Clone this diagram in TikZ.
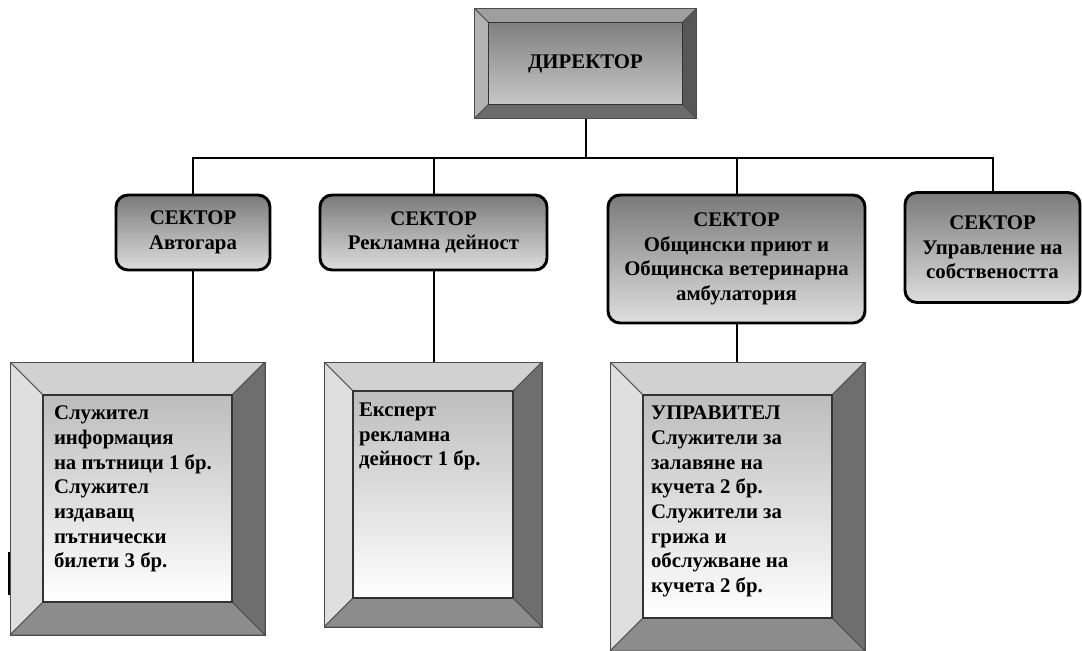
\documentclass[tikz,border=0pt]{standalone}
\usepackage{fontspec}
\setmainfont{Liberation Serif}
\def\px{0.75pt}
\begin{document}
\begin{tikzpicture}[x=0.75pt,y=-0.75pt,line width=1.5pt,
	font=\fontsize{15.6}{18.5}\selectfont\bfseries,
	bevel size/.store in=\bevsize, bevel size=30,
	bevel/.style={draw=black!70, line width=0.6pt, inner sep=0pt, outer sep=0pt,
		path picture={
			\path (path picture bounding box.north west) coordinate (nw)
			(path picture bounding box.south east) coordinate (se)
			(nw -| se) coordinate (ne) (nw |- se) coordinate (sw)
			([shift={(\bevsize,\bevsize)}]nw) coordinate (inw)
			([shift={(-\bevsize,-\bevsize)}]se) coordinate (ise)
			(inw -| ise) coordinate (ine) (inw |- ise) coordinate (isw);
			\filldraw[draw=black!70, line width=0.6pt, fill=\bevtop] (nw) -- (ne) -- (ine) -- (inw) -- cycle;
			\filldraw[draw=black!70, line width=0.6pt, fill=\bevleft] (nw) -- (inw) -- (isw) -- (sw) -- cycle;
			\filldraw[draw=black!70, line width=0.6pt, fill=\bevright] (ne) -- (se) -- (ise) -- (ine) -- cycle;
			\filldraw[draw=black!70, line width=0.6pt, fill=\bevbot] (sw) -- (isw) -- (ise) -- (se) -- cycle;
			\shade[top color=\facetop, bottom color=\facebot, draw=black!80, line width=0.8pt] (inw) rectangle (ise);
		}},
	director box/.style={bevel, bevel size=14, minimum width=222*\px, minimum height=110*\px,
		/utils/exec={\def\bevtop{black!38}\def\bevleft{black!30}\def\bevright{black!66}%
			\def\bevbot{black!58}\def\facetop{black!50}\def\facebot{black!22}}},
	staff box/.style={bevel,
		/utils/exec={\def\bevtop{black!18}\def\bevleft{black!13}\def\bevright{black!57}%
			\def\bevbot{black!45}\def\facetop{black!26}\def\facebot{white}}},
	staff text/.style={anchor=north west, inner sep=0pt, align=left},
	sector/.style={draw, line width=2.2pt, rounded corners=9pt, top color=black!52,
		bottom color=black!13, align=center, inner sep=2pt}]
	\useasboundingbox (0,0) rectangle (1082,650);
	
	\node[director box] (dir) at (585.5,63.5) {ДИРЕКТОР};
	
	\node[sector, minimum width=154*\px, minimum height=75*\px] (s1) at (193,232.5) {СЕКТОР\\Автогара};
	\node[sector, minimum width=227*\px, minimum height=75*\px] (s2) at (433.5,232.5) {СЕКТОР\\Рекламна дейност};
	\node[sector, minimum width=257*\px, minimum height=128*\px] (s3) at (736.5,259) {СЕКТОР\\Общински приют и\\Общинска ветеринарна\\амбулатория};
	\node[sector, minimum width=175*\px, minimum height=110*\px] (s4) at (992.5,247.5) {СЕКТОР\\Управление на\\собствеността};
	
	\node[staff box, bevel size=33, minimum width=255*\px, minimum height=273*\px] (b1) at (137.5,498.5) {};
	\node[staff box, bevel size=29, minimum width=218*\px, minimum height=265*\px] (b2) at (433,494.5) {};
	\node[staff box, bevel size=33, minimum width=255*\px, minimum height=289*\px] (b3) at (737.5,506.5) {};
	
	\node[staff text] (t1) at ([shift={(43,43)}]b1.north west) {Служител\\информация\\на пътници 1 бр.\\Служител\\издаващ\\пътнически\\билети 3 бр.};
	\node[staff text] (t2) at ([shift={(34,40)}]b2.north west) {Експерт\\рекламна\\дейност 1 бр.};
	\node[staff text] (t3) at ([shift={(40,43)}]b3.north west) {УПРАВИТЕЛ\\Служители за\\залавяне на\\кучета 2 бр.\\Служители за\\грижа и\\обслужване на\\кучета 2 бр.};
	
	\path (dir.south) ++(0,39) coordinate (bus);
	\draw (dir.south) -- (bus);
	\draw (s1.north) |- (bus) -| (s4.north);
	\path[draw]
	(s2.north) edge (s2.north |- bus)
	(s3.north) edge (s3.north |- bus)
	(s1.south) edge (s1.south |- b1.north)
	(s2.south) edge (s2.south |- b2.north)
	(s3.south) edge (s3.south |- b3.north);
	
	\draw[line width=1.5pt] (9,552) -- (9,595);
\end{tikzpicture}
\end{document}
